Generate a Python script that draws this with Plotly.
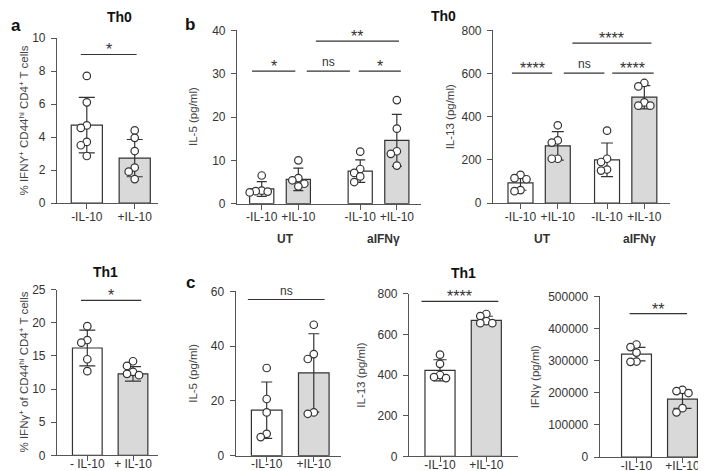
import plotly.graph_objects as go

W, H = 706, 471

# ---------------- data ----------------
conditions = ["-IL-10", "+IL-10"]
conditions_sp = ["- IL-10", "+ IL-10"]
group_names = ["UT", "aIFNγ"]

# a, Th0: % IFNY+ CD44hi CD4+ T cells
a_th0_minus = [7.7, 6.1, 4.7, 4.55, 3.7, 3.5, 2.85]
a_th0_plus = [4.4, 3.95, 3.15, 2.15, 1.9, 1.45]
a_th0_mean = [4.72, 2.72]
a_th0_sd = [1.68, 1.13]
a_th0_sig = ["*"]
a_th0_sig_h = [9.0]

# a, Th1: % IFNγ+ of CD44hi CD4+ T cells
a_th1_minus = [19.5, 17.4, 17.0, 14.5, 12.7]
a_th1_plus = [14.2, 13.5, 12.6, 12.3, 12.1]
a_th1_mean = [16.2, 12.3]
a_th1_sd = [2.7, 1.1]
a_th1_sig = ["*"]
a_th1_sig_h = [23.4]

# b, Th0 IL-5 (pg/ml): UT -, UT +, aIFNγ -, aIFNγ +
b_il5_ut_minus = [6.5, 3.0, 2.9, 2.8, 2.6]
b_il5_ut_plus = [10.0, 5.9, 5.4, 4.6, 4.0]
b_il5_ifn_minus = [12.0, 8.0, 7.1, 6.3, 5.0]
b_il5_ifn_plus = [23.9, 17.3, 12.1, 11.5, 8.8]
b_il5_mean = [3.4, 5.6, 7.5, 14.6]
b_il5_sd = [1.7, 2.6, 2.6, 6.0]
b_il5_sig = ["*", "ns", "*", "**"]
b_il5_sig_h = [30.6, 30.6, 30.6, 37.5]

# b, Th0 IL-13 (pg/ml)
b_il13_ut_minus = [130, 115, 110, 60, 55]
b_il13_ut_plus = [360, 290, 280, 205, 205]
b_il13_ifn_minus = [335, 205, 190, 155, 150]
b_il13_ifn_plus = [556, 540, 466, 451, 451]
b_il13_mean = [93, 265, 200, 490]
b_il13_sd = [34, 66, 78, 54]
b_il13_sig = ["****", "ns", "****", "****"]
b_il13_sig_h = [602, 602, 602, 741]

# c, Th1 IL-5 (pg/ml)
c_il5_minus = [32.0, 20.7, 15.8, 8.0, 6.8]
c_il5_plus = [47.8, 37.1, 35.3, 15.8, 15.3]
c_il5_mean = [16.6, 30.2]
c_il5_sd = [10.3, 14.3]
c_il5_sig = ["ns"]
c_il5_sig_h = [57]

# c, Th1 IL-13 (pg/ml)
c_il13_minus = [500, 455, 400, 390, 385]
c_il13_plus = [700, 690, 665, 655, 655]
c_il13_mean = [423, 669]
c_il13_sd = [52, 20]
c_il13_sig = ["****"]
c_il13_sig_h = [762]

# c, Th1 IFNγ (pg/ml)
c_ifng_minus = [350000, 342000, 325000, 297000, 296000]
c_ifng_plus = [209000, 205000, 199000, 152000, 139000]
c_ifng_mean = [320000, 180000]
c_ifng_sd = [21000, 29000]
c_ifng_sig = ["**"]
c_ifng_sig_h = [446000]

# ---------------- styling ----------------
FONT = "Liberation Sans, Arial, sans-serif"
DARK = "#333333"
AXC = "#555555"
WHITE = "#ffffff"
GREY = "#d9d9d9"
LW = 1.2

panels = [
    dict(xd=(49, 150), yd=(30, 195), xr=(-0.622, 1.486), yr=(0, 10), dt=2,
         pos=[0, 1], bw=0.65, cap=8, labels=conditions, xstand=-3,
         pts=[a_th0_minus, a_th0_plus], mean=a_th0_mean, sd=a_th0_sd,
         fills=[WHITE, GREY], sig=a_th0_sig, sig_h=a_th0_sig_h,
         spans=[(-0.125, 1.04)],
         ytitle="% IFNY<sup>+</sup> CD44<sup>hi</sup> CD4<sup>+</sup> T cells", ytx=15),
    dict(xd=(229, 413), yd=(22.3, 195.7), xr=(-0.675, 4.35), yr=(0, 40), dt=10,
         pos=[0, 1, 2.69, 3.69], bw=0.66, cap=5, labels=conditions * 2, xstand=-3,
         pts=[b_il5_ut_minus, b_il5_ut_plus, b_il5_ifn_minus, b_il5_ifn_plus],
         mean=b_il5_mean, sd=b_il5_sd, fills=[WHITE, GREY, WHITE, GREY],
         sig=b_il5_sig, sig_h=b_il5_sig_h,
         spans=[(-0.265, 0.918), (1.23, 2.41), (2.65, 3.8), (1.48, 3.75)],
         ytitle="IL-5 (pg/ml)", ytx=185, groups=[(0.64, group_names[0]), (3.33, group_names[1])]),
    dict(xd=(485, 661.7), yd=(22.3, 195), xr=(-0.737, 4.0), yr=(0, 800), dt=200,
         pos=[0, 1, 2.32, 3.32], bw=0.67, cap=6, labels=conditions * 2, xstand=-3,
         pts=[b_il13_ut_minus, b_il13_ut_plus, b_il13_ifn_minus, b_il13_ifn_plus],
         mean=b_il13_mean, sd=b_il13_sd, fills=[WHITE, GREY, WHITE, GREY],
         sig=b_il13_sig, sig_h=b_il13_sig_h,
         spans=[(-0.23, 0.85), (1.16, 2.25), (2.46, 3.57), (1.39, 3.51)],
         ytitle="IL-13 (pg/ml)", ytx=441.7, groups=[(0.6, group_names[0]), (3.2, group_names[1])]),
    dict(xd=(49, 150), yd=(281.7, 447.3), xr=(-0.663, 1.547), yr=(0, 25), dt=5,
         pos=[0, 1], bw=0.65, cap=8, labels=conditions_sp, xstand=-8,
         pts=[a_th1_minus, a_th1_plus], mean=a_th1_mean, sd=a_th1_sd,
         fills=[WHITE, GREY], sig=a_th1_sig, sig_h=a_th1_sig_h,
         spans=[(-0.14, 1.18)],
         ytitle="% IFNγ<sup>+</sup> of CD44<sup>hi</sup> CD4<sup>+</sup> T cells", ytx=15),
    dict(xd=(227.7, 333), yd=(283.3, 447.7), xr=(-0.658, 1.578), yr=(0, 60), dt=20,
         pos=[0, 1], bw=0.65, cap=5.5, labels=conditions, xstand=-8,
         pts=[c_il5_minus, c_il5_plus], mean=c_il5_mean, sd=c_il5_sd,
         fills=[WHITE, GREY], sig=c_il5_sig, sig_h=c_il5_sig_h,
         spans=[(-0.4, 1.23)], ytitle="IL-5 (pg/ml)", ytx=184.3),
    dict(xd=(401, 510), yd=(285.7, 448.3), xr=(-0.67, 1.685), yr=(0, 800), dt=200,
         pos=[0, 1], bw=0.65, cap=6.5, labels=conditions, xstand=-8,
         pts=[c_il13_minus, c_il13_plus], mean=c_il13_mean, sd=c_il13_sd,
         fills=[WHITE, GREY], sig=c_il13_sig, sig_h=c_il13_sig_h,
         spans=[(-0.4, 1.26)], ytitle="IL-13 (pg/ml)", ytx=352.7),
    dict(xd=(591.7, 706), yd=(288.3, 449), xr=(-0.8, 1.685), yr=(0, 500000), dt=100000,
         pos=[0, 1], bw=0.65, cap=9, labels=conditions, xstand=-8,
         pts=[c_ifng_minus, c_ifng_plus], mean=c_ifng_mean, sd=c_ifng_sd,
         fills=[WHITE, GREY], sig=c_ifng_sig, sig_h=c_ifng_sig_h,
         spans=[(-0.15, 1.1)], ytitle="IFNγ (pg/ml)", ytx=526.7),
]


def swarm(vals, ppu_y, D=6.0, step=6.0):
    order = sorted(range(len(vals)), key=lambda i: -vals[i])
    placed = []
    offs = [0.0] * len(vals)
    for i in order:
        y = vals[i] * ppu_y
        x = 0.0
        for k in [0, -1, 1, -2, 2, -3, 3]:
            x = k * step
            if all((x - px) ** 2 + (y - py) ** 2 >= D * D for px, py in placed):
                break
        placed.append((x, y))
        offs[i] = x
    return offs


def px(x, y):
    return x / W, 1 - y / H


fig = go.Figure()
layout = dict(width=W, height=H, margin=dict(l=0, r=0, t=0, b=0),
              paper_bgcolor="white", plot_bgcolor="white", showlegend=False,
              font=dict(family=FONT, color=DARK), template="none")
shapes, annotations = [], []

for n, p in enumerate(panels, start=1):
    xa, ya = f"x{n}", f"y{n}"
    wpx = p["xd"][1] - p["xd"][0]
    hpx = p["yd"][1] - p["yd"][0]
    ppu_x = wpx / (p["xr"][1] - p["xr"][0])
    ppu_y = hpx / (p["yr"][1] - p["yr"][0])

    layout[f"xaxis{n}"] = dict(
        domain=[p["xd"][0] / W, p["xd"][1] / W], range=list(p["xr"]), anchor=ya,
        showline=True, linecolor=AXC, linewidth=LW, ticks="outside", ticklen=5,
        tickcolor=AXC, tickwidth=LW, tickvals=p["pos"], ticktext=p["labels"],
        tickangle=0, tickfont=dict(size=12, color=DARK, family=FONT),
        ticklabelstandoff=p["xstand"],
        showgrid=False, zeroline=False, fixedrange=True)
    layout[f"yaxis{n}"] = dict(
        domain=[1 - p["yd"][1] / H, 1 - p["yd"][0] / H], range=list(p["yr"]), anchor=xa,
        showline=True, linecolor=AXC, linewidth=LW, ticks="outside", ticklen=5,
        tickcolor=AXC, tickwidth=LW, dtick=p["dt"], tick0=0, tickformat="d",
        tickfont=dict(size=12, color=DARK, family=FONT), ticklabelstandoff=3,
        showgrid=False, zeroline=False, fixedrange=True)

    fig.add_trace(go.Bar(
        x=p["pos"], y=p["mean"], width=p["bw"], xaxis=xa, yaxis=ya,
        marker=dict(color=p["fills"], line=dict(color=DARK, width=LW)),
        error_y=dict(type="data", array=p["sd"], visible=True, color=DARK,
                     thickness=LW, width=p["cap"]),
        hoverinfo="skip"))

    for gi, vals in enumerate(p["pts"]):
        offs = swarm(vals, ppu_y)
        fig.add_trace(go.Scatter(
            x=[p["pos"][gi] + o / ppu_x for o in offs], y=vals, mode="markers",
            xaxis=xa, yaxis=ya, cliponaxis=False, hoverinfo="skip",
            marker=dict(symbol="circle", size=7.5, color="white",
                        line=dict(color=DARK, width=LW))))

    for (x0, x1), h, lab in zip(p["spans"], p["sig_h"], p["sig"]):
        shapes.append(dict(type="line", xref=xa, yref=ya, x0=x0, x1=x1, y0=h, y1=h,
                           line=dict(color=DARK, width=LW)))
        is_star = "*" in lab
        annotations.append(dict(
            x=(x0 + x1) / 2, y=h, xref=xa, yref=ya, text=lab, showarrow=False,
            xanchor="center", yanchor="bottom", yshift=-6 if is_star else 0,
            font=dict(size=16 if is_star else 12, color=DARK, family=FONT)))

    yc = (p["yd"][0] + p["yd"][1]) / 2
    ax_, ay_ = px(p["ytx"], yc)
    annotations.append(dict(x=ax_, y=ay_, xref="paper", yref="paper", text=p["ytitle"],
                            textangle=-90, showarrow=False, xanchor="center", yanchor="middle",
                            font=dict(size=11.5, color="#444444", family=FONT)))

    for gx, gname in p.get("groups", []):
        annotations.append(dict(x=gx, y=1 - 231 / H, xref=xa, yref="paper", text=f"<b>{gname}</b>",
                                showarrow=False, xanchor="center", yanchor="middle",
                                font=dict(size=12, color=DARK, family=FONT)))

# titles and panel letters
for txt, x, y, size in [("Th0", 111, 9, 14), ("Th0", 435.6, 8.5, 14), ("Th1", 97.5, 264, 14),
                        ("Th1", 455, 265, 14), ("a", 7.5, 18, 17), ("b", 182, 17, 17),
                        ("c", 182.5, 274.5, 17)]:
    ax_, ay_ = px(x, y)
    annotations.append(dict(x=ax_, y=ay_, xref="paper", yref="paper", text=f"<b>{txt}</b>",
                            showarrow=False, xanchor="center", yanchor="middle",
                            font=dict(size=size, color="#111111", family=FONT)))

layout["shapes"] = shapes
layout["annotations"] = annotations
fig.update_layout(**layout)
fig.write_html("out.html")
